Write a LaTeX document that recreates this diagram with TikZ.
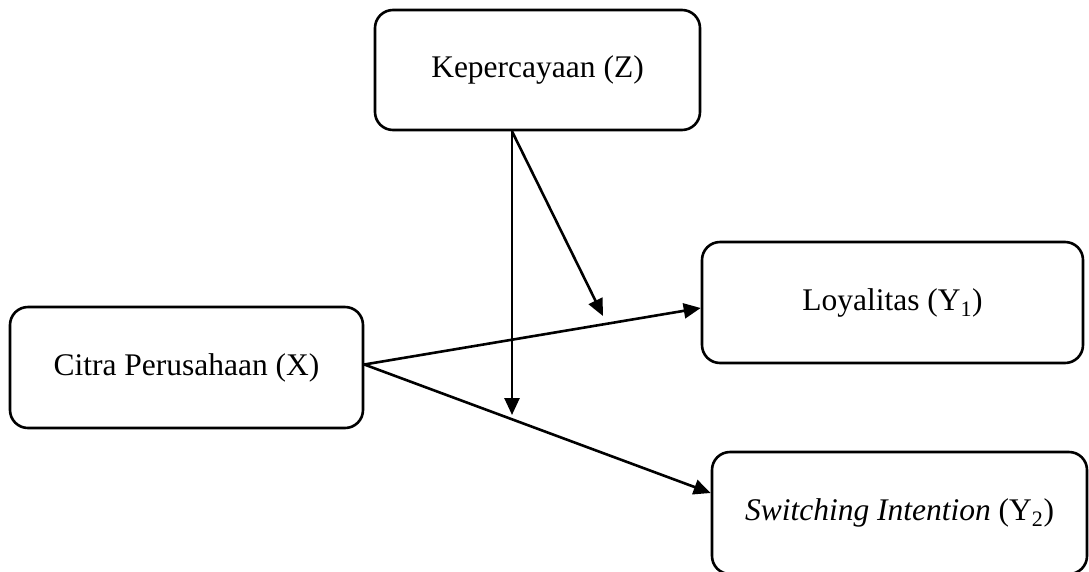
\documentclass[tikz,border=0pt]{standalone}
\usepackage{fontspec}
\setmainfont{Liberation Serif}
\usetikzlibrary{arrows.meta}

\begin{document}
\begin{tikzpicture}[x=1pt, y=-1pt,
        box/.style={draw, line width=2.6pt, rounded corners=18pt, inner sep=0pt,
            font=\fontsize{31.5}{37}\selectfont},
        arr/.style={line width=2.6pt, -{Triangle[length=17pt,width=15pt]}}
    ]
    \useasboundingbox (0,0) rectangle (1089,571);

    % variables
    \node[box, minimum width=325pt, minimum height=120pt] (kepercayaan) at (537.5,70) {Kepercayaan (Z)};
    \node[box, minimum width=353pt, minimum height=121pt] (citra) at (186.5,367.5) {Citra Perusahaan (X)};
    \node[box, minimum width=381pt, minimum height=121pt] (loyalitas) at (892.5,302.5) {Loyalitas (Y\textsubscript{1})};
    \node[box, minimum width=375pt, minimum height=122pt] (switching) at (899.5,513) {\textit{Switching Intention} (Y\textsubscript{2})};

    % moderation points
    \coordinate (mod1) at (603,316);
    \coordinate (mod2) at (512,415);

    % paths
    \draw[arr] ([yshift=3pt]citra.east) -- ([yshift=-5.5pt]loyalitas.west);
    \draw[arr] ([yshift=3pt]citra.east) -- ([yshift=20pt]switching.west);
    \draw[arr] ([xshift=-25.5pt]kepercayaan.south) -- (mod2);
    \draw[arr] ([xshift=-25.5pt]kepercayaan.south) -- (mod1);
\end{tikzpicture}
\end{document}
